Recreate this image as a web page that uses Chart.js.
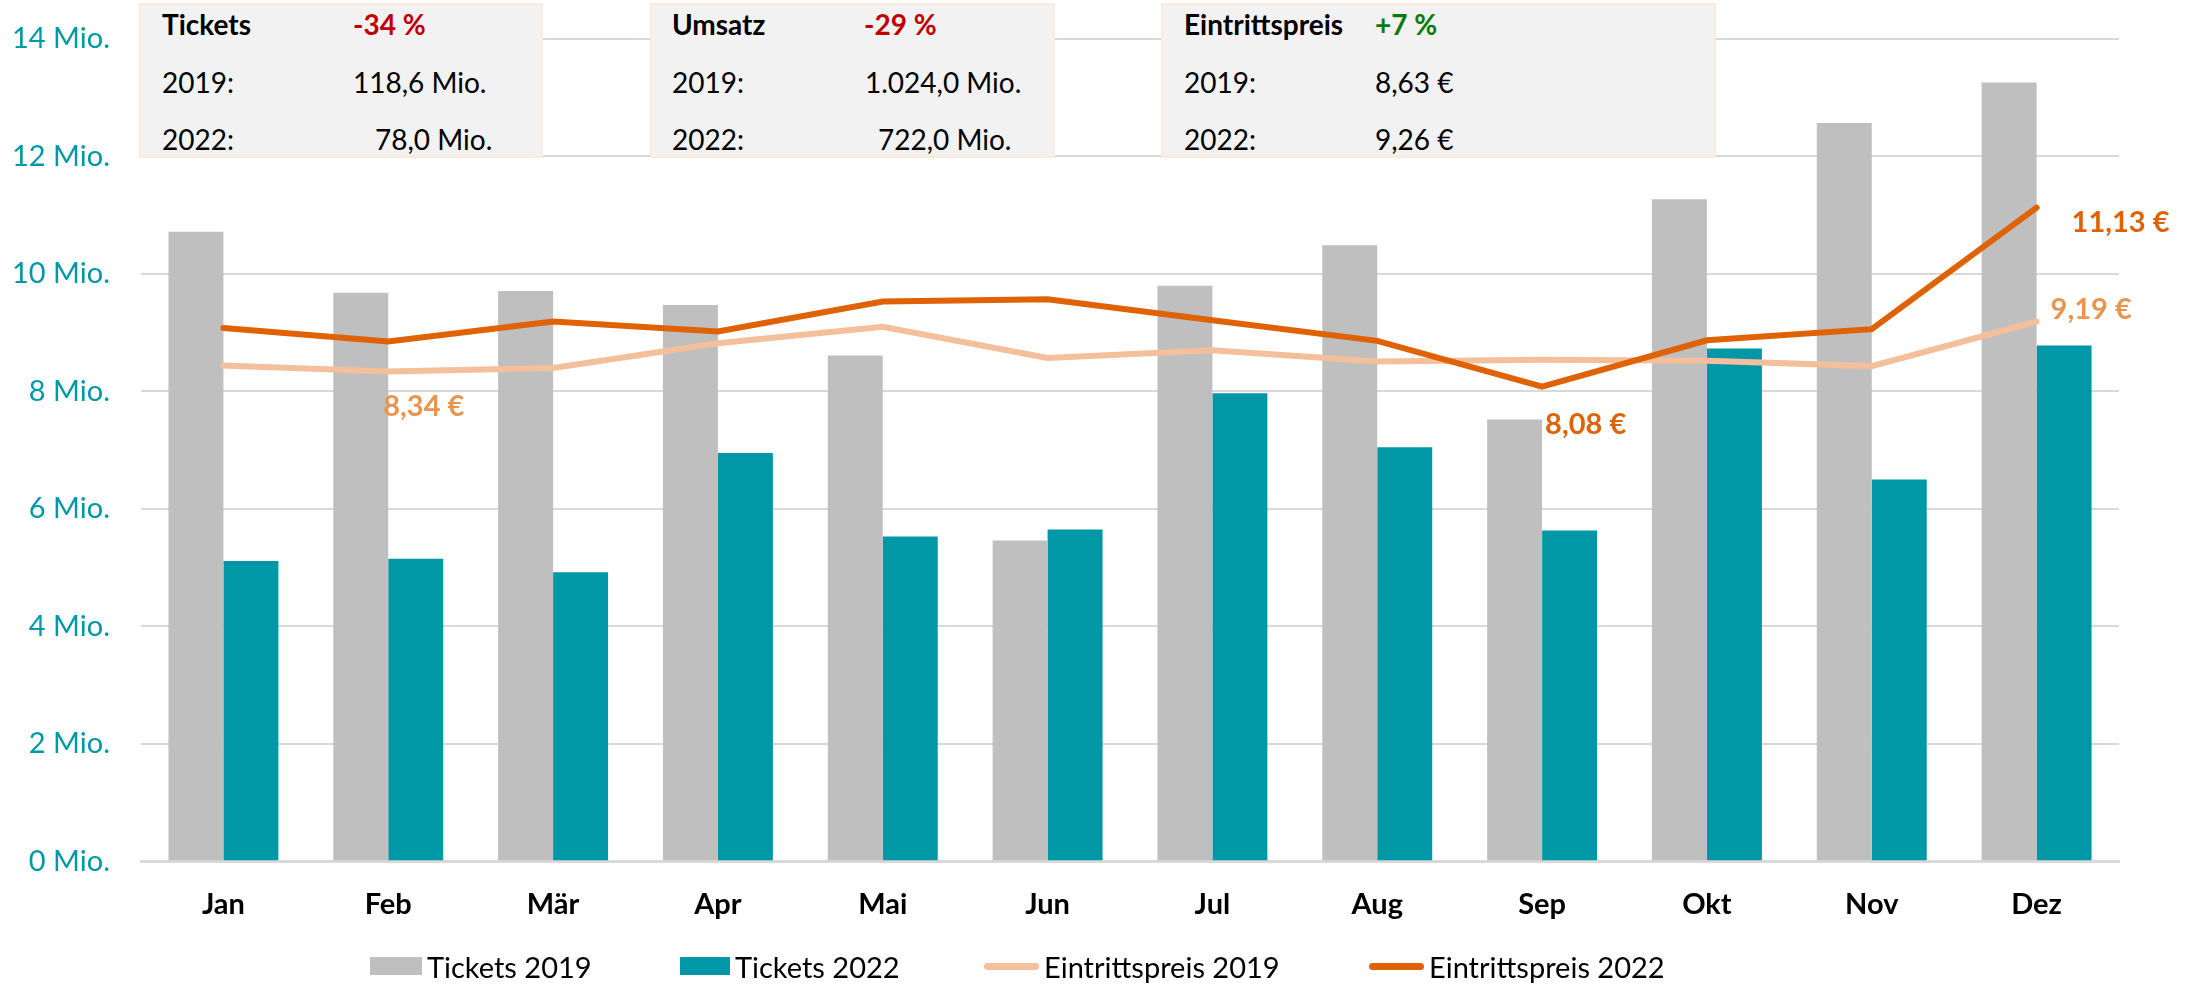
<!DOCTYPE html>
<html lang="de">
<head>
<meta charset="utf-8">
<title>Kino Tickets 2019 / 2022</title>
<script src="https://cdn.jsdelivr.net/npm/chart.js@4.4.1/dist/chart.umd.min.js"></script>
<style>
	html, body { margin: 0; padding: 0; background: #fff; }
	#wrap { position: relative; width: 2188px; height: 984px; font-family: Lato, sans-serif; }
	#wrap canvas { position: absolute; left: 0; top: 0; }
	.info { position: absolute; top: 3px; height: 151px; background: #f2f2f2; border: 2px solid #fcebdd; }
	.info span { position: absolute; font-size: 28px; line-height: 34px; color: #000; white-space: nowrap; }
	.info .b { font-weight: bold; }
	.info .neg { color: #c00000; }
	.info .pos { color: #0a7a0a; }
	.legend-item { position: absolute; top: 949px; height: 34px; display: flex; align-items: center; font-size: 29px; color: #000; white-space: nowrap; }
	.legend-item i { display: inline-block; margin-right: 5px; }
</style>
</head>
<body>
<div id="wrap">
	<canvas id="chart" width="2188" height="984"></canvas>

	<div class="info" style="left:139px; width:400px">
		<span class="b" style="left:21px; top:2px">Tickets</span>
		<span class="b neg" style="left:212px; top:2px">-34 %</span>
		<span style="left:21px; top:60px">2019:</span>
		<span style="left:212px; top:60px">118,6 Mio.</span>
		<span style="left:21px; top:117px">2022:</span>
		<span style="left:234px; top:117px">78,0 Mio.</span>
	</div>
	<div class="info" style="left:650px; width:401px">
		<span class="b" style="left:20px; top:2px">Umsatz</span>
		<span class="b neg" style="left:212px; top:2px">-29 %</span>
		<span style="left:20px; top:60px">2019:</span>
		<span style="left:213px; top:60px">1.024,0 Mio.</span>
		<span style="left:20px; top:117px">2022:</span>
		<span style="left:226px; top:117px">722,0 Mio.</span>
	</div>
	<div class="info" style="left:1161px; width:551px">
		<span class="b" style="left:21px; top:2px">Eintrittspreis</span>
		<span class="b pos" style="left:212px; top:2px">+7 %</span>
		<span style="left:21px; top:60px">2019:</span>
		<span style="left:212px; top:60px">8,63 €</span>
		<span style="left:21px; top:117px">2022:</span>
		<span style="left:212px; top:117px">9,26 €</span>
	</div>

	<div id="legend"></div>
</div>

<script>
const months = ["Jan", "Feb", "Mär", "Apr", "Mai", "Jun", "Jul", "Aug", "Sep", "Okt", "Nov", "Dez"]

// Tickets in Mio.
const tickets2019 = [10.72, 9.68, 9.71, 9.47, 8.61, 5.46, 9.80, 10.49, 7.52, 11.27, 12.57, 13.26]
const tickets2022 = [5.11, 5.15, 4.92, 6.95, 5.53, 5.65, 7.97, 7.05, 5.63, 8.73, 6.50, 8.78]

// Eintrittspreis in €
const price2019 = [8.44, 8.34, 8.40, 8.82, 9.10, 8.57, 8.70, 8.51, 8.54, 8.52, 8.43, 9.19]
const price2022 = [9.08, 8.85, 9.19, 9.02, 9.53, 9.57, 9.21, 8.86, 8.08, 8.87, 9.06, 11.13]

const yTicks = [0, 2, 4, 6, 8, 10, 12, 14]

const colors = {
	gray: "#bfbfbf",
	teal: "#0097a7",
	light: "#f4bf9b",
	lightText: "#e8954f",
	dark: "#df6205",
	grid: "#d9d9d9",
}

// which price points get a value label: [dataset index, point index, dx, dy]
const priceLabels = [
	[2, 1, -5, 35],
	[2, 11, 14, -12],
	[3, 8, 3, 38],
	[3, 11, 35, 15],
]

const euro = (v) => v.toFixed(2).replace(".", ",") + " €"

const priceLabelPlugin = {
	id: "priceLabels",
	afterDatasetsDraw(chart) {
		const ctx = chart.ctx
		ctx.save()
		ctx.font = "bold 29px Lato"
		ctx.textAlign = "left"
		ctx.textBaseline = "middle"
		priceLabels.forEach(([ds, i, dx, dy]) => {
			const pt = chart.getDatasetMeta(ds).data[i]
			const value = chart.data.datasets[ds].data[i]
			ctx.fillStyle = ds === 2 ? colors.lightText : colors.dark
			ctx.fillText(euro(value), pt.x + dx, pt.y + dy)
		})
		ctx.restore()
	},
}

Chart.defaults.font.family = "Lato"

new Chart(document.getElementById("chart"), {
	type: "bar",
	data: {
		labels: months,
		datasets: [
			{ label: "Tickets 2019", data: tickets2019, backgroundColor: colors.gray, order: 2, categoryPercentage: 0.667, barPercentage: 1 },
			{ label: "Tickets 2022", data: tickets2022, backgroundColor: colors.teal, order: 2, categoryPercentage: 0.667, barPercentage: 1 },
			{ type: "line", label: "Eintrittspreis 2019", data: price2019, yAxisID: "yPrice", borderColor: colors.light, borderWidth: 6, pointRadius: 0, tension: 0, borderCapStyle: "round", order: 1 },
			{ type: "line", label: "Eintrittspreis 2022", data: price2022, yAxisID: "yPrice", borderColor: colors.dark, borderWidth: 6, pointRadius: 0, tension: 0, borderCapStyle: "round", order: 0 },
		],
	},
	options: {
		responsive: false,
		animation: false,
		layout: { padding: { top: 39, right: 69, bottom: 44, left: 0 } },
		plugins: { legend: { display: false }, tooltip: { enabled: false } },
		scales: {
			x: {
				grid: { display: false },
				border: { display: true, color: colors.grid, width: 3 },
				ticks: { color: "#000", font: { size: 29, weight: "bold" }, padding: 18 },
			},
			y: {
				min: 0,
				max: 14,
				afterBuildTicks(scale) {
					scale.ticks = yTicks.map((v) => ({ value: v }))
				},
				afterFit(scale) {
					scale.width = 141
					scale.paddingTop = 0
					scale.paddingBottom = 0
				},
				grid: { color: colors.grid, lineWidth: 2, drawTicks: false },
				border: { display: false },
				ticks: {
					color: colors.teal,
					font: { size: 29 },
					padding: 31,
					callback: (v) => v + " Mio.",
				},
			},
			yPrice: {
				display: false,
				min: 0,
				max: 14,
			},
		},
	},
	plugins: [priceLabelPlugin],
})

// legend below the chart
const legendItems = [
	{ text: "Tickets 2019", left: 370, swatch: `width:52px;height:18px;background:${colors.gray}` },
	{ text: "Tickets 2022", left: 680, swatch: `width:50px;height:18px;background:${colors.teal}` },
	{ text: "Eintrittspreis 2019", left: 984, swatch: `width:55px;height:7px;border-radius:4px;background:${colors.light}` },
	{ text: "Eintrittspreis 2022", left: 1369, swatch: `width:55px;height:7px;border-radius:4px;background:${colors.dark}` },
]
document.getElementById("legend").innerHTML = legendItems.map((item) => `
	<div class="legend-item" style="left:${item.left}px"><i style="${item.swatch}"></i>${item.text}</div>
`).join("")
</script>
</body>
</html>
